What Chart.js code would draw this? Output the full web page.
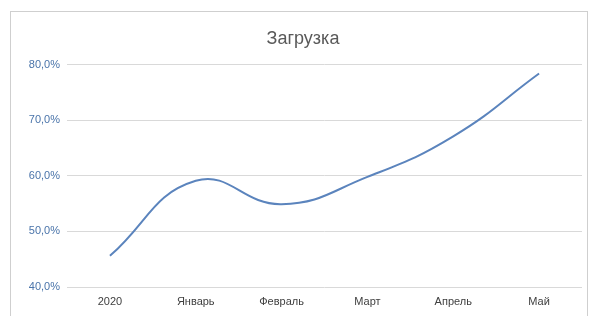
<!DOCTYPE html>
<html>
<head>
<meta charset="utf-8">
<script src="https://cdn.jsdelivr.net/npm/chart.js@4/dist/chart.umd.min.js"></script>
<style>
    html, body { margin: 0; padding: 0; background: #fff; }
    #frame {
        position: absolute; left: 10px; top: 11px; width: 578px; height: 320px;
        border: 1px solid #cfcfcf; box-sizing: border-box;
    }
    #wrap { position: absolute; left: 0; top: 0; width: 595px; height: 316px; }
</style>
</head>
<body>
<div id="frame"></div>
<div id="wrap"><canvas id="chart"></canvas></div>
<script>
// Data
const categories = ['2020', 'Январь', 'Февраль', 'Март', 'Апрель', 'Май'];
const loadValues = [45.6, 59.1, 54.9, 59.8, 67.1, 78.4];
const yTicks = [40, 50, 60, 70, 80];

const ctx = document.getElementById('chart').getContext('2d');

new Chart(ctx, {
    type: 'line',
    data: {
        labels: categories,
        datasets: [{
            label: 'Загрузка',
            data: loadValues,
            borderColor: '#5b84bd',
            borderWidth: 2,
            fill: false,
            tension: 0.45,
            pointRadius: 0
        }]
    },
    options: {
        responsive: true,
        maintainAspectRatio: false,
        animation: false,
        layout: { padding: { left: 24, right: 13, top: 12, bottom: 3 } },
        plugins: {
            legend: { display: false },
            tooltip: { enabled: false },
            title: {
                display: true,
                text: 'Загрузка',
                color: '#595959',
                font: { family: 'Liberation Sans, Arial, sans-serif', size: 18, weight: 'normal' },
                padding: { top: 16, bottom: 15 }
            }
        },
        scales: {
            x: {
                offset: true,
                afterFit: (scale) => { scale.height = 26; },
                grid: { display: false },
                border: { display: false },
                ticks: {
                    color: '#404040',
                    padding: 0,
                    font: { family: 'Liberation Sans, Arial, sans-serif', size: 11 }
                }
            },
            y: {
                min: 40,
                max: 80,
                afterBuildTicks: (scale) => { scale.ticks = yTicks.map(v => ({ value: v })); },
                afterFit: (scale) => { scale.width = 43; },
                grid: { color: '#d9d9d9', lineWidth: 1, drawTicks: false },
                border: { display: false },
                ticks: {
                    color: '#4a74aa',
                    padding: 7,
                    font: { family: 'Liberation Sans, Arial, sans-serif', size: 11 },
                    callback: (value) => value.toFixed(1).replace('.', ',') + '%'
                }
            }
        }
    }
});
</script>
</body>
</html>
